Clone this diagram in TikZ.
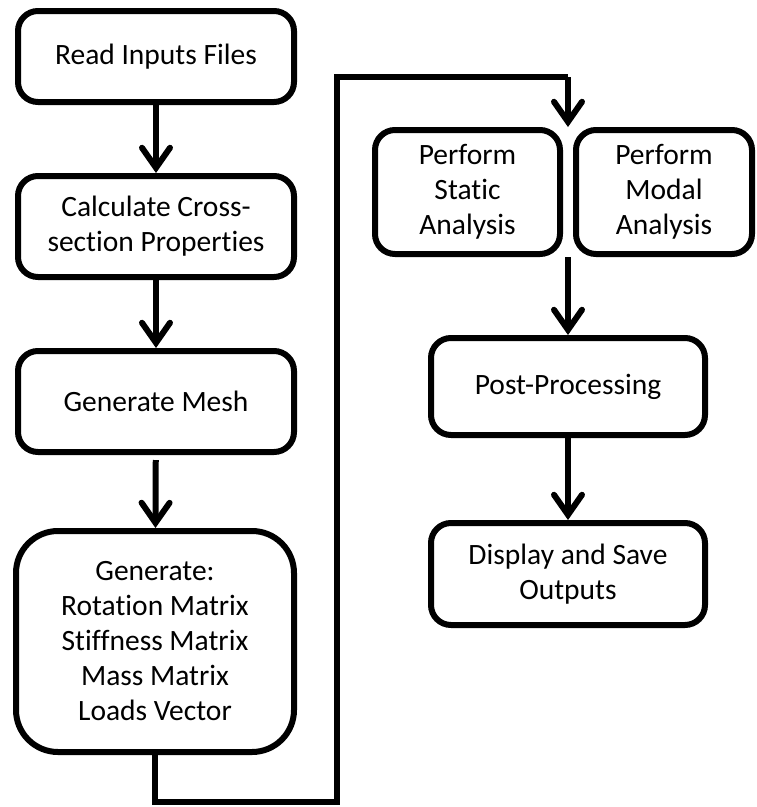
\documentclass[tikz,border=0pt]{standalone}
\usepackage{fontspec}
\setmainfont{Carlito}[RawFeature=-liga]
\usetikzlibrary{arrows.meta}
\tikzset{
	stepbox/.style={draw, line width=6pt, rounded corners=20pt, align=center, inner sep=0pt,
		font=\fontsize{29.5}{35}\selectfont},
	flow/.style={line width=6pt, -{Straight Barb[length=20pt,width=28pt,line cap=round]}},
	link/.style={line width=6pt}
}

\begin{document}
\begin{tikzpicture}[x=1pt, y=-1pt]
		%%%%% START %%%%%
		\useasboundingbox (0, 0) rectangle (757, 807);
		
		\node[stepbox, minimum width=276pt, minimum height=91pt] (read) at (156, 56.5) {Read Inputs Files};
		\node[stepbox, minimum width=276pt, minimum height=101pt] (cross) at (156, 226.5) {Calculate Cross-\\section Properties};
		\node[stepbox, minimum width=276pt, minimum height=101pt] (mesh) at (156, 401.5) {Generate Mesh};
		\node[stepbox, rounded corners=42pt, minimum width=278pt, minimum height=221pt] (gen) at (155, 641.5)
			{Generate:\\Rotation Matrix\\Stiffness Matrix\\Mass Matrix\\Loads Vector};
		
		\node[stepbox, minimum width=185pt, minimum height=124pt] (static) at (467.5, 192) {Perform\\Static\\Analysis};
		\node[stepbox, minimum width=176pt, minimum height=124pt] (modal) at (664, 192) {Perform\\Modal\\Analysis};
		\node[stepbox, minimum width=274pt, minimum height=97pt] (post) at (568, 386.5) {Post-Processing};
		\node[stepbox, minimum width=274pt, minimum height=102pt] (disp) at (568, 574) {Display and Save\\Outputs};
		
		\draw[flow] (read) -- (cross);
		\draw[flow] (cross) -- (mesh);
		\draw[flow, shorten <=5pt] (mesh) -- (gen);
		
		\coordinate (low) at (337, 802);
		\coordinate (high) at (337, 77);
		\coordinate (join) at (568, 127);
		\draw[link] (gen.south) |- (low) -- (high) -| ++(231, 0);
		\draw[flow] (568, 77) -- (join);
		
		\coordinate (split) at (568, 257);
		\draw[flow] (split) -- (post);
		\draw[flow] (post) -- (disp);
		%%%%% END %%%%%
	\end{tikzpicture}
\end{document}
